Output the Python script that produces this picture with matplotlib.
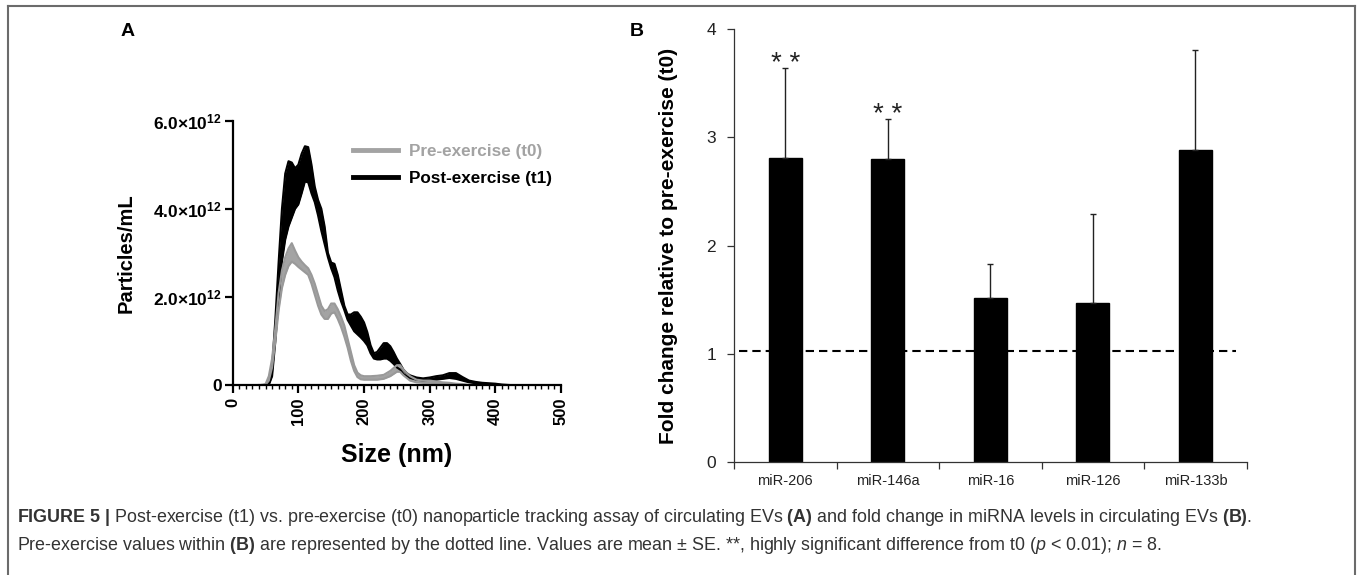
import numpy as np
import matplotlib
matplotlib.use("Agg")
import matplotlib.pyplot as plt
from matplotlib.lines import Line2D
from matplotlib.ticker import MultipleLocator, FixedLocator, NullLocator

plt.rcParams["font.family"] = ["Liberation Sans", "DejaVu Sans"]
plt.rcParams["mathtext.fontset"] = "custom"
plt.rcParams["mathtext.rm"] = "Liberation Sans"
plt.rcParams["mathtext.bf"] = "Liberation Sans:bold"
plt.rcParams["mathtext.it"] = "Liberation Sans:italic"

# --- panel A: NTA size distribution (particles/mL, x1e12), band = upper/lower edge
post_size = [45, 50, 55, 60, 65, 70, 75, 80, 85, 90, 95, 100, 105, 110, 115, 120, 125,
             130, 135, 140, 145, 150, 155, 160, 165, 170, 175, 180, 185, 190, 195, 200,
             205, 210, 215, 220, 225, 230, 235, 240, 245, 250, 255, 260, 265, 270, 280,
             290, 300, 310, 320, 330, 340, 350, 360, 370, 380, 390, 400, 410, 420]
post_hi = [0, 0, 0.03, 0.4, 1.5, 2.8, 4.0, 4.8, 5.08, 5.05, 4.92, 5.0, 5.25, 5.42, 5.4,
           5.0, 4.5, 4.2, 4.0, 3.6, 3.0, 2.78, 2.75, 2.5, 2.15, 1.8, 1.6, 1.6, 1.65,
           1.65, 1.55, 1.42, 1.2, 0.9, 0.72, 0.75, 0.85, 0.95, 0.95, 0.88, 0.75, 0.6,
           0.48, 0.35, 0.27, 0.22, 0.17, 0.15, 0.17, 0.2, 0.22, 0.27, 0.27, 0.18, 0.1,
           0.07, 0.05, 0.04, 0.03, 0.01, 0]
post_lo = [0, 0, 0, 0.2, 1.0, 2.0, 2.8, 3.3, 3.6, 3.8, 4.0, 4.1, 4.35, 4.62, 4.6, 4.35,
           4.15, 3.85, 3.5, 3.2, 2.9, 2.65, 2.45, 2.15, 1.9, 1.7, 1.48, 1.35, 1.22,
           1.15, 1.08, 1.0, 0.9, 0.72, 0.6, 0.58, 0.58, 0.6, 0.6, 0.55, 0.48, 0.4,
           0.35, 0.25, 0.2, 0.16, 0.12, 0.1, 0.12, 0.12, 0.14, 0.16, 0.14, 0.1, 0.06,
           0.04, 0.03, 0.02, 0.01, 0, 0]

pre_size = [40, 45, 50, 55, 60, 65, 70, 75, 80, 85, 90, 95, 100, 105, 110, 115, 120,
            125, 130, 135, 140, 145, 150, 155, 160, 165, 170, 175, 180, 185, 190, 195,
            200, 210, 220, 230, 240, 250, 255, 260, 270, 280, 290, 300, 310, 320, 330,
            340, 350, 360]
pre_hi = [0, 0, 0.02, 0.2, 0.6, 1.3, 2.1, 2.6, 2.9, 3.1, 3.22, 3.05, 2.9, 2.8, 2.72,
          2.65, 2.5, 2.3, 2.05, 1.8, 1.68, 1.72, 1.85, 1.85, 1.72, 1.55, 1.35, 1.05,
          0.75, 0.45, 0.28, 0.22, 0.2, 0.2, 0.21, 0.23, 0.32, 0.45, 0.45, 0.35, 0.2,
          0.12, 0.1, 0.1, 0.08, 0.06, 0.05, 0.03, 0.02, 0]
pre_lo = [0, 0, 0, 0.1, 0.4, 1.0, 1.7, 2.2, 2.5, 2.7, 2.8, 2.75, 2.68, 2.62, 2.56, 2.5,
          2.3, 2.05, 1.8, 1.6, 1.5, 1.5, 1.62, 1.65, 1.5, 1.32, 1.1, 0.85, 0.55, 0.32,
          0.18, 0.13, 0.12, 0.12, 0.12, 0.14, 0.2, 0.3, 0.3, 0.22, 0.1, 0.06, 0.05,
          0.05, 0.04, 0.03, 0.02, 0.01, 0, 0]

# --- panel B: fold change of miRNA levels
mirnas = ["miR-206", "miR-146a", "miR-16", "miR-126", "miR-133b"]
fold = [2.81, 2.80, 1.51, 1.47, 2.88]
se = [0.83, 0.37, 0.32, 0.82, 0.93]
signif = ["* *", "* *", "", "", ""]
baseline = 1.02

W, H = 1357, 575
fig = plt.figure(figsize=(W / 100, H / 100), dpi=100)

# ---------------- panel A
axA = fig.add_axes([232.7 / W, 1 - 385 / H, 328.3 / W, 264.3 / H])
sc = 1e12
axA.fill_between(post_size, np.array(post_lo) * sc, np.array(post_hi) * sc,
                 color="black", lw=0)
axA.plot(post_size, np.array(post_hi) * sc, color="black", lw=1.5)
axA.plot(post_size, np.array(post_lo) * sc, color="black", lw=1.5)
grey = "#a3a3a3"
axA.fill_between(pre_size, np.array(pre_lo) * sc, np.array(pre_hi) * sc,
                 color=grey, lw=0)
axA.plot(pre_size, np.array(pre_hi) * sc, color="#999999", lw=1.5)
axA.plot(pre_size, np.array(pre_lo) * sc, color="#999999", lw=1.5)

axA.set_xlim(0, 500)
axA.set_ylim(0, 6e12)
for s in ["top", "right"]:
    axA.spines[s].set_visible(False)
for s in ["left", "bottom"]:
    axA.spines[s].set_linewidth(1.6)
axA.xaxis.set_minor_locator(MultipleLocator(10))
axA.yaxis.set_minor_locator(NullLocator())
axA.set_yticks([0, 2e12, 4e12, 6e12],
               ["0", "2.0×10$^{\\mathbf{12}}$", "4.0×10$^{\\mathbf{12}}$",
                "6.0×10$^{\\mathbf{12}}$"])
axA.set_xticks([0, 100, 200, 300, 400, 500], ["0", "100", "200", "300", "400", "500"])
for lab in axA.get_yticklabels():
    lab.set_fontweight("bold")
    lab.set_fontsize(12.5)
for lab in axA.get_xticklabels():
    lab.set_fontweight("bold")
    lab.set_fontsize(12)
    lab.set_rotation(90)
axA.tick_params(axis="both", which="major", length=6, width=1.6, pad=1.5)
axA.tick_params(axis="x", which="major", pad=3)
axA.tick_params(axis="x", which="minor", length=3, width=1)
axA.set_xlabel("Size (nm)", fontsize=18, fontweight="bold", va="center")
axA.xaxis.set_label_coords(0.5, -(455 - 385) / 264.3)
axA.set_ylabel("Particles/mL", fontsize=14.5, fontweight="bold", va="center")
axA.yaxis.set_label_coords(-(232.7 - 126) / 328.3, 0.5)

handles = [Line2D([], [], color=grey, lw=3.5), Line2D([], [], color="black", lw=3.5)]
leg = axA.legend(handles, ["Pre-exercise (t0)", "Post-exercise (t1)"],
                 loc="upper left", bbox_to_anchor=(353 / W, 1 - 144 / H),
                 bbox_transform=fig.transFigure, frameon=False,
                 prop={"weight": "bold", "size": 12.3}, handlelength=2.65,
                 handletextpad=0.65, labelspacing=0.72, borderpad=0, borderaxespad=0)
leg.get_texts()[0].set_color(grey)

# ---------------- panel B
axB = fig.add_axes([734 / W, 1 - 461.7 / H, 512.7 / W, 432.4 / H])
x = np.arange(len(mirnas))
axB.bar(x, fold, width=0.32, color="black", edgecolor="black", zorder=2)
axB.errorbar(x, fold, yerr=[np.zeros(len(se)), se], fmt="none", ecolor="#222222",
             elinewidth=1, capsize=2.5, capthick=1, zorder=3)
for xi, f, e, s in zip(x, fold, se, signif):
    if s:
        axB.text(xi, f + e - 0.025, s, ha="center", va="baseline", fontsize=20,
                 color="#222222")
axB.axhline(baseline, xmin=0.01, xmax=0.98, color="black", lw=1.5,
            linestyle=(0, (4, 2.4)), zorder=4)
axB.set_xlim(-0.5, len(mirnas) - 0.5)
axB.set_ylim(0, 4)
for s in ["top", "right"]:
    axB.spines[s].set_visible(False)
for s in ["left", "bottom"]:
    axB.spines[s].set_linewidth(0.9)
    axB.spines[s].set_color("#333333")
axB.set_yticks([0, 1, 2, 3, 4])
axB.set_xticks(x, mirnas)
axB.xaxis.set_minor_locator(FixedLocator(np.arange(-0.5, len(mirnas), 1.0)))
axB.tick_params(axis="x", which="major", length=0, pad=9, labelsize=10.5,
                labelcolor="#222222")
axB.tick_params(axis="x", which="minor", length=5, width=0.9, color="#333333")
axB.tick_params(axis="y", which="major", length=5, width=0.9, color="#333333",
                labelsize=12.5, labelcolor="#222222", pad=8)
axB.set_ylabel("Fold change relative to pre-exercise (t0)", fontsize=15,
               fontweight="bold", va="center")
axB.yaxis.set_label_coords(-(734 - 668) / 512.7, 0.5)

# panel letters
fig.text(128 / W, 1 - 32 / H, "A", fontsize=14, fontweight="bold", ha="center", va="center")
fig.text(637 / W, 1 - 32 / H, "B", fontsize=14, fontweight="bold", ha="center", va="center")

# frame
fc = "#6b6b6b"
fig.add_artist(Line2D([8 / W, 8 / W], [0, 1 - 6 / H], color=fc, lw=1.5))
fig.add_artist(Line2D([8 / W, 1355 / W], [1 - 6 / H, 1 - 6 / H], color=fc, lw=1.5))
fig.add_artist(Line2D([1355 / W, 1355 / W], [0, 1 - 6 / H], color=fc, lw=1.5))

# caption
cap1 = (r"$\mathbf{FIGURE\ 5\ |}$ Post-exercise (t1) vs. pre-exercise (t0) nanoparticle "
        r"tracking assay of circulating EVs $\mathbf{(A)}$ and fold change in miRNA "
        r"levels in circulating EVs $\mathbf{(B)}$.")
cap2 = (r"Pre-exercise values within $\mathbf{(B)}$ are represented by the dotted line. "
        r"Values are mean ± SE. **, highly significant difference from t0 ($p$ < 0.01); "
        r"$n$ = 8.")
fig.text(17 / W, 1 - 518 / H, cap1, fontsize=12.9, color="#333333", va="center")
fig.text(17 / W, 1 - 546 / H, cap2, fontsize=12.9, color="#333333", va="center")

fig.savefig("out.png", dpi=100)
